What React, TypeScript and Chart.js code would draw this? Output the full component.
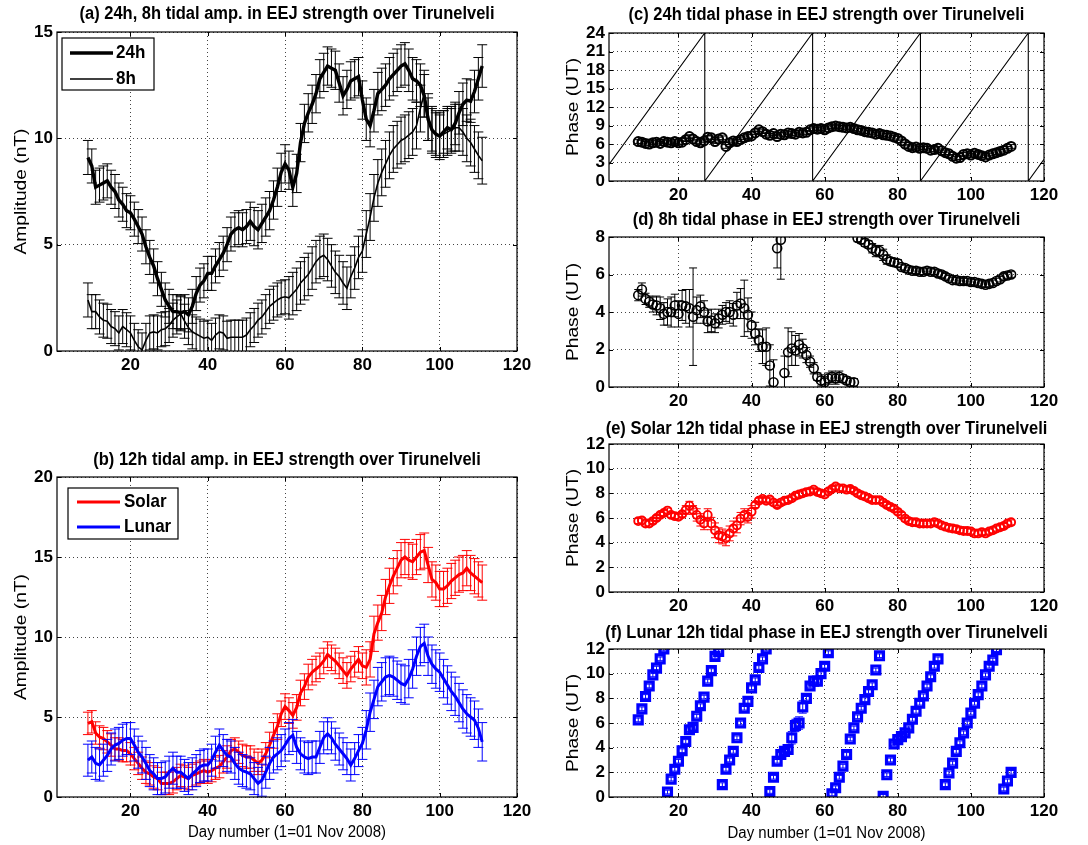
import React, { useEffect, useRef } from 'react';
import { Chart, registerables } from 'chart.js';

Chart.register(...registerables);

const FONT = '"Liberation Sans", Arial, Helvetica, sans-serif';

// ---------------- data ----------------
const DAYS = Array.from({ length: 103 }, (_, i) => 9 + i); // day numbers 9 .. 111
const X_TICKS = [20, 40, 60, 80, 100, 120];
const AMP_TICKS = [0, 5, 10, 15];
const AMP12_TICKS = [0, 5, 10, 15, 20];
const PHASE24_TICKS = [0, 3, 6, 9, 12, 15, 18, 21, 24];
const PHASE8_TICKS = [0, 2, 4, 6, 8];
const PHASE12_TICKS = [0, 2, 4, 6, 8, 10, 12];

// (a) amplitudes (nT)
const AMP_24H = [
  9.1, 8.7, 7.7, 7.8, 7.9, 8.0, 7.7, 7.5, 7.1, 6.9,
  6.6, 6.5, 6.2, 5.85, 5.5, 4.9, 4.4, 4.0, 3.4, 2.9,
  2.4, 2.1, 1.85, 1.85, 1.8, 1.85, 1.7, 2.1, 2.7, 3.1,
  3.3, 3.65, 3.65, 4.0, 4.3, 4.6, 5.0, 5.5, 5.7, 5.8,
  5.7, 5.85, 6.1, 5.85, 5.7, 6.0, 6.3, 6.6, 7.1, 7.7,
  8.4, 8.8, 8.5, 7.7, 8.35, 9.8, 10.7, 11.2, 11.6, 12.1,
  12.8, 13.1, 13.4, 13.3, 13.2, 12.6, 12.0, 12.3, 12.7, 12.8,
  12.9, 11.8, 10.9, 10.6, 11.3, 12.1, 12.3, 12.5, 12.8, 13.0,
  13.2, 13.4, 13.5, 13.2, 12.8, 12.7, 12.5, 12.0, 10.9, 10.4,
  10.2, 10.1, 10.3, 10.5, 10.4, 10.7, 11.2, 11.6, 11.8, 11.75,
  12.2, 12.8, 13.4,
];
const AMP_8H = [
  2.4, 1.85, 1.85, 1.6, 1.45, 1.4, 1.15, 1.05, 0.85, 1.15,
  1.0, 0.85, 0.5, 0.2, 0.05, 0.5, 0.85, 0.9, 0.85, 1.0,
  1.05, 1.2, 1.45, 1.6, 1.75, 1.4, 1.1, 0.9, 0.8, 0.7,
  0.6, 0.65, 0.5, 0.75, 0.9, 0.85, 0.6, 0.65, 0.65, 0.65,
  0.65, 0.75, 1.0, 1.2, 1.45, 1.6, 1.85, 2.1, 2.25, 2.4,
  2.5, 2.55, 2.5, 2.7, 2.9, 3.2, 3.4, 3.6, 3.9, 4.2,
  4.4, 4.5, 4.3, 4.0, 3.7, 3.5, 3.2, 2.95, 3.5, 3.9,
  4.4, 4.7, 5.5, 6.3, 7.2, 7.9, 8.4, 8.8, 9.2, 9.5,
  9.7, 9.9, 10.0, 10.15, 10.3, 10.6, 11.4, 12.1, 11.0, 10.4,
  10.2, 10.1, 10.2, 10.3, 10.4, 10.5, 10.5, 10.3, 10.0, 9.8,
  9.5, 9.2, 8.95,
];
// (b) 12h amplitudes (nT)
const AMP_SOLAR = [
  4.6, 4.7, 4.0, 3.75, 3.65, 3.45, 3.25, 3.0, 3.0, 2.9,
  2.9, 2.7, 2.4, 2.1, 1.8, 1.55, 1.45, 1.25, 1.15, 0.85,
  0.85, 0.85, 0.95, 1.15, 1.35, 1.25, 1.15, 1.35, 1.45, 1.55,
  1.65, 1.55, 1.65, 1.8, 1.9, 2.2, 2.5, 2.9, 3.0, 2.8,
  2.6, 2.5, 2.5, 2.3, 2.1, 2.3, 2.7, 3.25, 3.85, 4.4,
  5.2, 5.65, 5.4, 5.1, 5.6, 6.5, 6.9, 7.5, 7.8, 8.0,
  8.2, 8.5, 8.9, 8.7, 8.5, 8.2, 7.9, 7.6, 8.0, 8.3,
  8.6, 8.2, 8.1, 8.6, 10.2, 10.9, 11.5, 12.5, 13.2, 13.8,
  14.3, 14.8, 15.0, 14.8, 14.7, 15.0, 15.3, 15.4, 14.5, 13.6,
  13.4, 13.0, 13.0, 13.2, 13.5, 13.7, 13.9, 14.0, 14.3, 14.0,
  13.8, 13.6, 13.4,
];
const AMP_LUNAR = [
  2.3, 2.5, 2.1, 2.0, 2.3, 2.6, 3.0, 3.25, 3.35, 3.55,
  3.65, 3.65, 3.25, 2.8, 2.5, 2.1, 1.65, 1.45, 1.15, 1.15,
  1.25, 1.55, 1.8, 1.55, 1.55, 1.35, 1.15, 1.45, 1.65, 1.9,
  2.0, 2.0, 2.3, 2.8, 3.25, 2.9, 2.6, 2.5, 2.1, 1.8,
  1.65, 1.55, 1.45, 1.15, 0.85, 1.05, 1.55, 2.1, 2.5, 2.7,
  2.9, 3.25, 3.65, 3.85, 3.1, 2.7, 2.5, 2.4, 2.5, 2.5,
  3.1, 3.7, 3.95, 3.7, 3.3, 3.0, 2.7, 2.4, 2.0, 2.4,
  2.9, 3.35, 4.2, 5.3, 6.1, 6.9, 7.2, 7.5, 7.6, 7.5,
  7.3, 7.1, 7.0, 7.4, 8.0, 8.8, 9.4, 9.6, 8.8, 8.3,
  8.0, 7.8, 7.4, 7.0, 6.6, 6.3, 5.9, 5.5, 5.2, 5.0,
  4.8, 4.3, 3.45,
];
// (c) 24h phase (UT)
const PHASE_24H = [
  6.4, 6.3, 6.1, 6.0, 6.2, 6.3, 6.1, 6.4, 6.3, 6.2,
  6.4, 6.2, 6.3, 6.7, 7.2, 6.8, 6.4, 6.2, 6.5, 7.1,
  7.0, 6.4, 6.8, 7.0, 5.6, 6.2, 6.5, 6.4, 6.7, 7.0,
  7.2, 7.3, 7.8, 8.3, 8.0, 7.6, 7.4, 7.7, 7.2, 7.6,
  7.5, 7.8, 7.7, 7.6, 7.9, 7.8, 7.9, 8.3, 8.5, 8.4,
  8.5, 8.3, 8.6, 8.8, 8.9, 8.8, 8.7, 8.6, 8.7, 8.5,
  8.3, 8.2, 8.0, 7.9, 7.8, 7.6, 7.7, 7.5, 7.4, 7.3,
  7.1, 6.9, 6.5, 6.0, 5.6, 5.4, 5.5, 5.3, 5.4, 5.3,
  5.0, 5.1, 5.3, 4.9, 4.6, 4.4, 4.0, 3.7, 3.8, 4.3,
  4.4, 4.2, 4.5, 4.3, 4.1, 3.9, 4.2, 4.4, 4.6, 4.8,
  5.0, 5.3, 5.6,
];
// (c) reference sawtooth line
const REF_LINE_X = [1, 27.2, 27.2, 56.7, 56.7, 86.2, 86.2, 115.7, 115.7, 120];
const REF_LINE_Y = [2.7, 24, 0, 24, 0, 24, 0, 24, 0, 3.5];
// (d) 8h phase (UT)
const PHASE_8H = [
  4.9, 5.2, 4.7, 4.55, 4.4, 4.35, 4.2, 3.9, 4.0, 4.0,
  4.35, 3.9, 4.35, 4.3, 4.2, 3.75, 4.1, 4.3, 4.0, 3.5,
  3.55, 3.4, 3.65, 3.85, 4.0, 4.0, 3.85, 4.35, 4.45, 4.2,
  3.85, 3.3, 2.85, 2.5, 2.15, 2.15, 1.15, 0.25, 7.4, 7.85,
  0.75, 1.85, 2.05, 1.95, 2.25, 2.05, 1.7, 1.35, 1.0, 0.55,
  0.35, 0.25, 0.45, 0.55, 0.45, 0.55, 0.45, 0.35, 0.25, 0.25,
  7.95, 7.85, 7.7, 7.6, 7.4, 7.25, 7.25, 7.05, 6.8, 6.7,
  6.65, 6.6, 6.4, 6.35, 6.25, 6.2, 6.2, 6.15, 6.15, 6.2,
  6.15, 6.15, 6.05, 6.0, 5.9, 5.8, 5.7, 5.7, 5.65, 5.65,
  5.65, 5.6, 5.6, 5.55, 5.5, 5.45, 5.5, 5.55, 5.65, 5.75,
  5.9, 5.95, 6.0,
];
const ERR_PHASE_8H = [
  0.3, 0.35, 0.3, 0.3, 0.4, 0.5, 0.6, 0.6, 0.7, 0.8,
  0.6, 0.7, 0.8, 0.9, 1.0, 2.6, 0.7, 0.6, 0.6, 0.6,
  0.6, 0.5, 0.5, 0.5, 0.5, 0.6, 0.6, 0.7, 0.8, 1.5,
  0.9, 0.7, 0.6, 0.6, 0.9, 1.0, 1.1, 1.2, 1.05, 2.1,
  0.9, 1.3, 0.9, 0.8, 0.6, 0.5, 0.4, 0.3, 0.3, 0.2,
  0.3, 0.3, 0.3, 0.3, 0.3, 0.3, 0.2, 0.2, 0.2, 0.2,
  0.2, 0.2, 0.2, 0.2, 0.25, 0.3, 0.3, 0.3, 0.25, 0.2,
  0.2, 0.2, 0.15, 0.15, 0.15, 0.15, 0.15, 0.15, 0.15, 0.15,
  0.15, 0.15, 0.15, 0.15, 0.15, 0.15, 0.15, 0.15, 0.15, 0.15,
  0.15, 0.15, 0.15, 0.15, 0.15, 0.15, 0.15, 0.15, 0.15, 0.15,
  0.15, 0.15, 0.15,
];
// (e) solar 12h phase (UT)
const PHASE_SOLAR = [
  5.75, 5.8, 5.55, 5.55, 5.75, 6.0, 6.25, 6.4, 6.6, 6.25,
  6.15, 6.1, 6.3, 6.65, 7.0, 6.65, 6.25, 5.85, 5.55, 6.25,
  5.55, 5.0, 4.6, 4.5, 4.35, 4.75, 5.15, 5.4, 5.95, 6.25,
  6.1, 6.5, 7.05, 7.4, 7.55, 7.4, 7.5, 7.25, 7.05, 7.25,
  7.4, 7.45, 7.6, 7.8, 7.9, 8.0, 8.1, 8.15, 8.3, 8.1,
  8.0, 7.9, 8.15, 8.35, 8.55, 8.4, 8.4, 8.3, 8.35, 8.2,
  8.0, 7.85, 7.75, 7.6, 7.45, 7.45, 7.45, 7.25, 7.05, 6.9,
  6.75, 6.5, 6.25, 5.95, 5.75, 5.65, 5.65, 5.55, 5.55, 5.55,
  5.55, 5.65, 5.55, 5.4, 5.3, 5.2, 5.15, 5.1, 5.0, 4.95,
  4.95, 4.9, 4.75, 4.75, 4.85, 4.75, 4.9, 5.0, 5.15, 5.25,
  5.35, 5.55, 5.65,
];
// (f) lunar 12h phase (UT); null = no point
const PHASE_LUNAR = [
  6.25, 7.15, 8.15, 9.0, 9.9, 10.45, 11.2, 12.0, 0.4, 1.45,
  2.25, 2.9, 3.75, 4.5, 5.45, 5.65, 6.55, 7.4, 8.1, 9.4,
  10.25, 11.4, 11.8, 1.0, 2.25, 3.0, 3.7, 4.8, 6.0, 7.2,
  7.75, 8.85, 9.5, 10.5, 11.2, 12.0, 0.45, 1.6, 2.9, 3.45,
  3.7, 3.85, 4.8, 5.8, 6.0, 7.3, 8.0, 9.0, 9.4, 9.4,
  10.0, 10.6, 11.7, 0.25, 0.75, 1.6, 2.5, 3.45, 4.7, 5.6,
  6.5, 7.2, 7.9, 8.55, 9.1, 10.3, 11.45, 0.05, 1.8, 3.0,
  4.3, 4.65, 4.9, 5.2, 5.6, 6.3, 6.95, 7.6, 8.2, 9.0,
  9.75, 10.6, 11.2, null, 1.0, 1.95, 2.75, 3.7, 4.4, 5.2,
  6.0, 6.8, 7.6, 8.3, 9.0, 9.9, 10.6, 11.1, 11.95, null,
  0.65, 1.3, 2.0,
];

// error bar half-widths given as [first day, last day, value]
const ERR_AMP_24H_SEG = [[9, 50, 0.8], [51, 80, 0.9], [81, 111, 1.0]];
const ERR_AMP_8H_SEG = [[9, 60, 0.8], [61, 80, 1.0], [81, 111, 1.1]];
const ERR_SOLAR_SEG = [[9, 55, 0.7], [56, 80, 0.8], [81, 111, 1.1]];
const ERR_LUNAR_SEG = [[9, 80, 1.0], [81, 111, 1.2]];
const ERR_PHASE_24H_SEG = [[9, 111, 0.3]];
const ERR_PHASE_SOLAR_SEG = [[9, 21, 0.2], [22, 24, 0.35], [25, 29, 0.5], [30, 36, 0.6], [37, 40, 0.5], [41, 111, 0.2]];
const ERR_PHASE_LUNAR_SEG = [[9, 50, 0.15], [51, 54, 0.5], [55, 111, 0.15]];

// ---------------- helpers ----------------
function segErr(segs: number[][]) {
  return DAYS.map((d) => {
    const s = segs.find((g) => d >= g[0] && d <= g[1]);
    return s ? s[2] : 0;
  });
}
function pts(values: (number | null)[], errs?: number[]) {
  return DAYS.map((d, i) => ({ x: d, y: values[i], e: errs ? errs[i] : 0 })).filter((p) => p.y !== null);
}

type Box = { l: number; t: number; r: number; b: number };
type Spec = {
  id: string;
  canvas: { x: number; y: number; w: number; h: number };
  area: Box;
  yMin: number;
  yMax: number;
  yTicks: number[];
  title: string;
  titleY: number;
  yTitle: string;
  yTitleX: number;
  xTitle?: string;
  xTitleY?: number;
  datasets: any[];
  legend?: { box: Box; sample: [number, number]; textX: number; rows: { y: number; ds: number }[] };
};

function drawText(ctx: CanvasRenderingContext2D, text: string, x: number, y: number, o: any) {
  ctx.save();
  ctx.translate(x, y);
  if (o.rotate) ctx.rotate(-Math.PI / 2);
  ctx.scale(o.sx || 1, o.sy || 1);
  ctx.font = `${o.weight || 'normal'} ${o.size}px ${FONT}`;
  ctx.fillStyle = '#000';
  ctx.textAlign = o.align || 'center';
  ctx.textBaseline = 'middle';
  ctx.fillText(text, 0, 0);
  ctx.restore();
}

function makePlugin(spec: Spec) {
  return {
    id: 'panel_' + spec.id,
    beforeDatasetDraw(chart: any, args: any) {
      const ds: any = chart.data.datasets[args.index];
      if (!ds.errorBars) return;
      const { ctx, chartArea: a } = chart;
      const xs = chart.scales.x;
      const ys = chart.scales.y;
      ctx.save();
      ctx.beginPath();
      ctx.rect(a.left, a.top, a.right - a.left, a.bottom - a.top);
      ctx.clip();
      ctx.strokeStyle = ds.errorBars.color;
      ctx.lineWidth = ds.errorBars.width;
      const h = ds.errorBars.cap;
      ctx.beginPath();
      for (const p of ds.data) {
        if (!p.e) continue;
        const px = xs.getPixelForValue(p.x);
        const lo = ys.getPixelForValue(p.y - p.e);
        const hi = ys.getPixelForValue(p.y + p.e);
        ctx.moveTo(px, lo);
        ctx.lineTo(px, hi);
        ctx.moveTo(px - h, lo);
        ctx.lineTo(px + h, lo);
        ctx.moveTo(px - h, hi);
        ctx.lineTo(px + h, hi);
      }
      ctx.stroke();
      ctx.restore();
    },
    afterDraw(chart: any) {
      const { ctx, chartArea: a } = chart;
      const xs = chart.scales.x;
      const ys = chart.scales.y;
      const ox = spec.canvas.x;
      const oy = spec.canvas.y;
      ctx.save();
      ctx.strokeStyle = '#000';
      ctx.lineWidth = 1.2;
      ctx.strokeRect(a.left, a.top, a.right - a.left, a.bottom - a.top);
      ctx.lineWidth = 1;
      ctx.beginPath();
      for (const v of X_TICKS) {
        const px = Math.round(xs.getPixelForValue(v)) + 0.5;
        ctx.moveTo(px, a.bottom);
        ctx.lineTo(px, a.bottom - 4);
        ctx.moveTo(px, a.top);
        ctx.lineTo(px, a.top + 4);
      }
      for (const v of spec.yTicks) {
        const py = Math.round(ys.getPixelForValue(v)) + 0.5;
        ctx.moveTo(a.left, py);
        ctx.lineTo(a.left + 4, py);
        ctx.moveTo(a.right, py);
        ctx.lineTo(a.right - 4, py);
      }
      ctx.stroke();
      ctx.restore();

      const cx = (a.left + a.right) / 2;
      drawText(ctx, spec.title, cx, spec.titleY - oy, { size: 16.5, weight: 'bold', sy: 1.1 });
      drawText(ctx, spec.yTitle, spec.yTitleX - ox, (a.top + a.bottom) / 2, { size: 16, rotate: true, sx: 1.2 });
      if (spec.xTitle) drawText(ctx, spec.xTitle, cx, (spec.xTitleY as number) - oy, { size: 15, sy: 1.15 });

      if (spec.legend) {
        const L = spec.legend;
        ctx.save();
        ctx.fillStyle = '#fff';
        ctx.fillRect(L.box.l - ox, L.box.t - oy, L.box.r - L.box.l, L.box.b - L.box.t);
        ctx.strokeStyle = '#000';
        ctx.lineWidth = 1.2;
        ctx.strokeRect(L.box.l - ox, L.box.t - oy, L.box.r - L.box.l, L.box.b - L.box.t);
        for (const row of L.rows) {
          const ds = chart.data.datasets[row.ds];
          ctx.strokeStyle = ds.borderColor;
          ctx.lineWidth = ds.borderWidth;
          ctx.beginPath();
          ctx.moveTo(L.sample[0] - ox, row.y - oy);
          ctx.lineTo(L.sample[1] - ox, row.y - oy);
          ctx.stroke();
          drawText(ctx, ds.label, L.textX - ox, row.y - oy, { size: 17, weight: 'bold', align: 'left', sy: 1.08 });
        }
        ctx.restore();
      }
    },
  };
}

function buildConfig(s: Spec): any {
  const c = s.canvas;
  const a = s.area;
  const tickFont = { family: FONT, size: 17, weight: 'bold' };
  const grid = { color: '#444', lineWidth: 1, drawTicks: false };
  const border = { display: false, dash: [1, 3] };
  return {
    type: 'scatter',
    data: { datasets: s.datasets },
    options: {
      animation: false,
      responsive: false,
      maintainAspectRatio: false,
      events: [],
      layout: { padding: { top: a.t - c.y, right: c.x + c.w - a.r, left: 0, bottom: 0 } },
      plugins: { legend: { display: false }, tooltip: { enabled: false }, title: { display: false } },
      scales: {
        x: {
          type: 'linear',
          min: 1,
          max: 120,
          afterBuildTicks: (sc: any) => {
            sc.ticks = X_TICKS.map((v) => ({ value: v }));
          },
          afterFit: (sc: any) => {
            sc.height = c.y + c.h - a.b;
          },
          grid,
          border,
          ticks: { color: '#000', font: tickFont, padding: 4, maxRotation: 0, autoSkip: false },
        },
        y: {
          type: 'linear',
          min: s.yMin,
          max: s.yMax,
          afterBuildTicks: (sc: any) => {
            sc.ticks = s.yTicks.map((v) => ({ value: v }));
          },
          afterFit: (sc: any) => {
            sc.width = a.l - c.x;
          },
          grid,
          border,
          ticks: { color: '#000', font: tickFont, padding: 4, autoSkip: false },
        },
      },
    },
    plugins: [makePlugin(s)],
  };
}

function Panel({ spec }: { spec: Spec }) {
  const ref = useRef<HTMLCanvasElement>(null);
  useEffect(() => {
    const chart = new Chart(ref.current as HTMLCanvasElement, buildConfig(spec));
    return () => chart.destroy();
  }, []);
  const c = spec.canvas;
  return (
    <canvas
      ref={ref}
      width={c.w}
      height={c.h}
      style={{ position: 'absolute', left: c.x, top: c.y, width: c.w, height: c.h }}
    />
  );
}

const BLACK = '#000000';
const RED = '#ff0000';
const BLUE = '#0000ff';

function lineDs(label: string, values: number[], errs: number[], color: string, width: number, order: number, cap: number) {
  return {
    label,
    data: pts(values, errs),
    showLine: true,
    borderColor: color,
    backgroundColor: color,
    borderWidth: width,
    pointRadius: 0,
    tension: 0,
    order,
    errorBars: { color, width: 1, cap },
  };
}
function markerDs(label: string, values: (number | null)[], errs: number[], color: string, style: string, radius: number, bw: number) {
  return {
    label,
    data: pts(values, errs),
    showLine: false,
    borderColor: color,
    backgroundColor: 'rgba(0,0,0,0)',
    borderWidth: bw,
    pointStyle: style,
    pointRadius: radius,
    pointBorderWidth: bw,
    errorBars: { color, width: 1, cap: 4 },
  };
}

const SPECS: Spec[] = [
  {
    id: 'a',
    canvas: { x: 0, y: 0, w: 545, h: 385 },
    area: { l: 57, t: 32, r: 517, b: 351 },
    yMin: 0,
    yMax: 15,
    yTicks: AMP_TICKS,
    title: '(a) 24h, 8h tidal amp. in EEJ strength over Tirunelveli',
    titleY: 14,
    yTitle: 'Amplitude (nT)',
    yTitleX: 22,
    datasets: [
      lineDs('24h', AMP_24H, segErr(ERR_AMP_24H_SEG), BLACK, 3.4, 0, 5),
      lineDs('8h', AMP_8H, segErr(ERR_AMP_8H_SEG), BLACK, 1.6, 1, 5),
    ],
    legend: { box: { l: 62, t: 38, r: 154, b: 90 }, sample: [70, 113], textX: 116, rows: [{ y: 53, ds: 0 }, { y: 79, ds: 1 }] },
  },
  {
    id: 'b',
    canvas: { x: 0, y: 440, w: 545, h: 405 },
    area: { l: 57, t: 477, r: 517, b: 797 },
    yMin: 0,
    yMax: 20,
    yTicks: AMP12_TICKS,
    title: '(b) 12h tidal amp. in EEJ strength over Tirunelveli',
    titleY: 460,
    yTitle: 'Amplitude (nT)',
    yTitleX: 22,
    xTitle: 'Day number (1=01 Nov 2008)',
    xTitleY: 832,
    datasets: [
      lineDs('Solar', AMP_SOLAR, segErr(ERR_SOLAR_SEG), RED, 3, 1, 5),
      lineDs('Lunar', AMP_LUNAR, segErr(ERR_LUNAR_SEG), BLUE, 3, 0, 5),
    ],
    legend: { box: { l: 68, t: 488, r: 178, b: 539 }, sample: [77, 120], textX: 124, rows: [{ y: 502, ds: 0 }, { y: 527, ds: 1 }] },
  },
  {
    id: 'c',
    canvas: { x: 552, y: 0, w: 536, h: 205 },
    area: { l: 609, t: 33, r: 1044, b: 181 },
    yMin: 0,
    yMax: 24,
    yTicks: PHASE24_TICKS,
    title: '(c) 24h tidal phase in EEJ strength over Tirunelveli',
    titleY: 15,
    yTitle: 'Phase (UT)',
    yTitleX: 574,
    datasets: [
      markerDs('24h phase', PHASE_24H, segErr(ERR_PHASE_24H_SEG), BLACK, 'circle', 4.5, 2),
      {
        label: 'reference',
        data: REF_LINE_X.map((x, i) => ({ x, y: REF_LINE_Y[i] })),
        showLine: true,
        borderColor: BLACK,
        borderWidth: 1.1,
        pointRadius: 0,
        tension: 0,
      },
    ],
  },
  {
    id: 'd',
    canvas: { x: 552, y: 205, w: 536, h: 205 },
    area: { l: 609, t: 237, r: 1044, b: 387 },
    yMin: 0,
    yMax: 8,
    yTicks: PHASE8_TICKS,
    title: '(d) 8h tidal phase in EEJ strength over Tirunelveli',
    titleY: 220,
    yTitle: 'Phase (UT)',
    yTitleX: 574,
    datasets: [markerDs('8h phase', PHASE_8H, ERR_PHASE_8H, BLACK, 'circle', 4.5, 1.6)],
  },
  {
    id: 'e',
    canvas: { x: 552, y: 410, w: 536, h: 205 },
    area: { l: 609, t: 444, r: 1044, b: 592 },
    yMin: 0,
    yMax: 12,
    yTicks: PHASE12_TICKS,
    title: '(e) Solar 12h tidal phase in EEJ strength over Tirunelveli',
    titleY: 429,
    yTitle: 'Phase (UT)',
    yTitleX: 574,
    datasets: [markerDs('Solar 12h phase', PHASE_SOLAR, segErr(ERR_PHASE_SOLAR_SEG), RED, 'circle', 4, 1.9)],
  },
  {
    id: 'f',
    canvas: { x: 552, y: 615, w: 536, h: 230 },
    area: { l: 609, t: 649, r: 1044, b: 797 },
    yMin: 0,
    yMax: 12,
    yTicks: PHASE12_TICKS,
    title: '(f) Lunar 12h tidal phase in EEJ strength over Tirunelveli',
    titleY: 633,
    yTitle: 'Phase (UT)',
    yTitleX: 574,
    xTitle: 'Day number (1=01 Nov 2008)',
    xTitleY: 833,
    datasets: [markerDs('Lunar 12h phase', PHASE_LUNAR, segErr(ERR_PHASE_LUNAR_SEG), BLUE, 'rect', 5.6, 3.2)],
  },
];

export default function App() {
  return (
    <div style={{ position: 'absolute', left: 0, top: 0, width: 1088, height: 845, background: '#fff', overflow: 'hidden' }}>
      {SPECS.map((s) => (
        <Panel key={s.id} spec={s} />
      ))}
    </div>
  );
}
